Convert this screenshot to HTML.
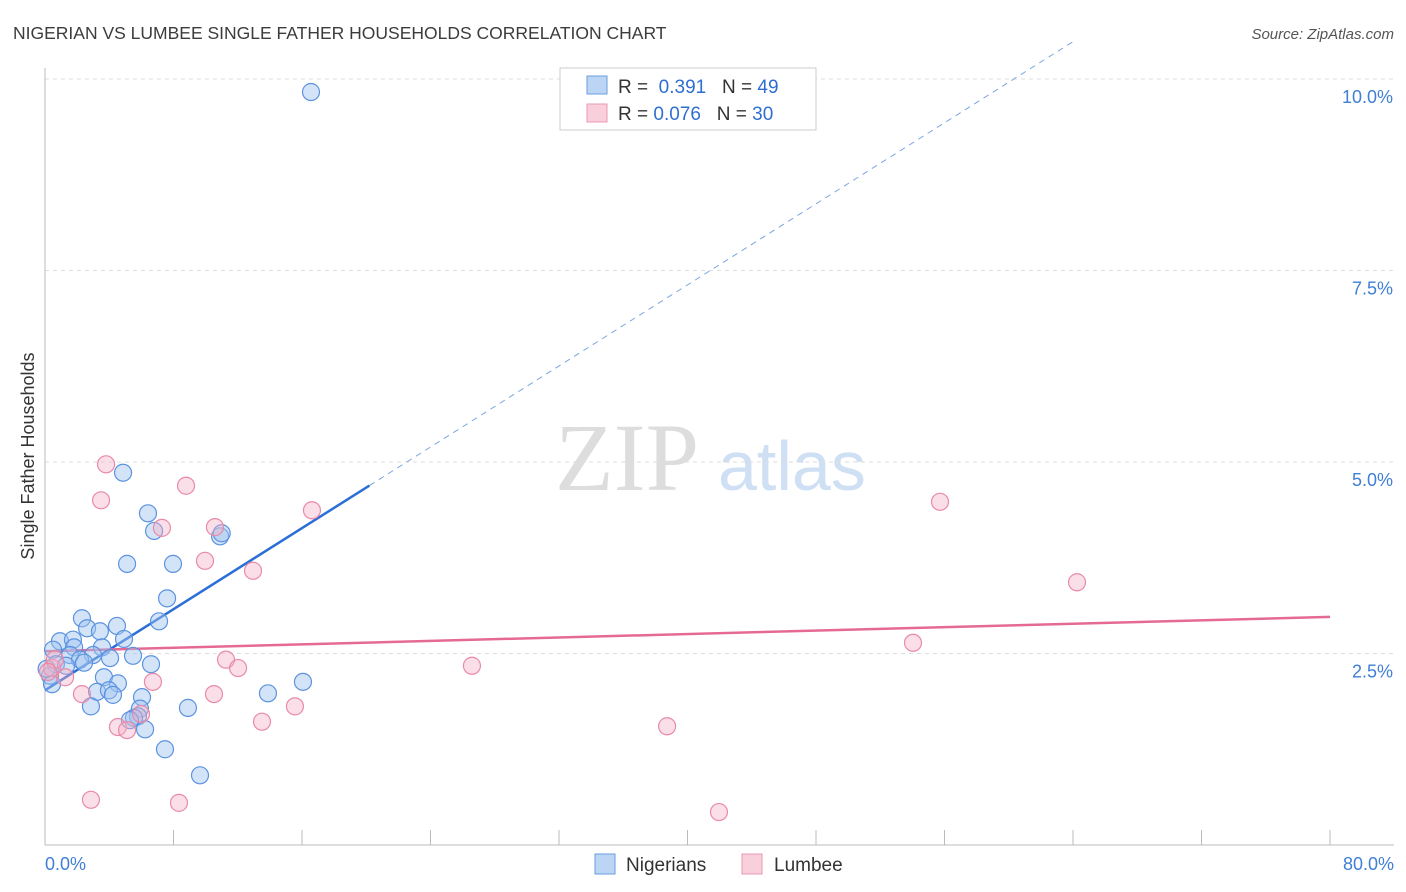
<!DOCTYPE html>
<html><head><meta charset="utf-8"><style>
body{margin:0;background:#fff;font-family:"Liberation Sans",sans-serif}
svg{display:block}
</style></head><body>
<svg id="chart" width="1406" height="892" xmlns="http://www.w3.org/2000/svg">
<text x="13" y="39" font-size="17.5" fill="#3c3c3c">NIGERIAN VS LUMBEE SINGLE FATHER HOUSEHOLDS CORRELATION CHART</text>
<text x="1394" y="39" font-size="15" fill="#555" font-style="italic" text-anchor="end">Source: ZipAtlas.com</text>
<text transform="translate(34,456) rotate(-90)" font-size="18" fill="#333" text-anchor="middle">Single Father Households</text>
<g><text x="555" y="490" font-family="Liberation Serif" font-size="96" fill="#ddd">ZIP</text><text x="718" y="490" font-size="70" fill="#cfe0f4">atlas</text></g>
<g id="grid"></g><g id="axes"></g><g id="lines"></g><g id="pts"></g>
<g>
<rect x="560" y="68" width="256" height="62" fill="#fff" stroke="#ccc"/>
<rect x="587" y="76" width="20" height="18" fill="#bcd5f5" stroke="#6a9ee0"/>
<text x="618" y="93" font-size="19" fill="#333">R = <tspan fill="#2f6fd0">&#160;0.391</tspan>&#160;&#160;&#160;N = <tspan fill="#2f6fd0">49</tspan></text>
<rect x="587" y="104" width="20" height="18" fill="#f9cfdc" stroke="#eb9ab3"/>
<text x="618" y="120" font-size="19" fill="#333">R = <tspan fill="#2f6fd0">0.076</tspan>&#160;&#160;&#160;N = <tspan fill="#2f6fd0">30</tspan></text>
</g>
<g>
<rect x="595" y="854" width="20" height="20" fill="#bcd5f5" stroke="#6a9ee0"/>
<text x="626" y="871" font-size="19" fill="#333">Nigerians</text>
<rect x="742" y="854" width="20" height="20" fill="#f9cfdc" stroke="#eb9ab3"/>
<text x="774" y="871" font-size="19" fill="#333">Lumbee</text>
</g>
</svg>
<script>
const yTicks=[2.5,5.0,7.5,10.0];
const xTickLabels=["0.0%","80.0%"];
const nigX=[16.56,4.86,6.41,6.79,10.9,11.0,5.11,7.97,7.60,7.10,2.30,2.62,4.48,3.42,4.92,0.93,1.74,1.81,3.55,1.56,2.99,4.05,5.48,6.60,0.50,0.68,2.18,1.31,2.43,0.31,0.44,3.67,4.54,3.24,3.98,4.23,6.04,2.86,5.91,5.79,5.54,5.29,6.23,7.47,8.90,13.88,16.06,9.65,0.1];
const nigY=[9.83,4.86,4.33,4.10,4.03,4.07,3.67,3.67,3.22,2.92,2.96,2.83,2.86,2.79,2.69,2.66,2.68,2.58,2.58,2.48,2.48,2.44,2.47,2.36,2.55,2.36,2.42,2.34,2.38,2.21,2.10,2.19,2.11,2.00,2.02,1.96,1.93,1.81,1.78,1.68,1.66,1.63,1.51,1.25,1.79,1.98,2.13,0.91,2.3];
const lumX=[3.80,3.49,8.78,7.28,10.58,16.62,9.96,12.95,55.72,64.25,54.04,26.58,11.27,12.02,6.72,10.52,2.30,1.25,15.56,13.51,4.54,5.11,5.98,38.73,2.86,8.34,41.96,0.44,0.62,0.19];
const lumY=[4.97,4.50,4.69,4.14,4.15,4.37,3.71,3.58,4.48,3.43,2.64,2.34,2.42,2.31,2.13,1.97,1.97,2.19,1.81,1.61,1.54,1.50,1.71,1.55,0.59,0.55,0.43,2.31,2.42,2.26];
const nigLine=[2.02,0.1323]; // intercept, slope
const lumLine=[2.53,0.0056];
const NS="http://www.w3.org/2000/svg";
const X=v=>45+v/80*1285, Y=v=>845-v*76.6;
function mk(tag,attrs,parent){const e=document.createElementNS(NS,tag);for(const k in attrs)e.setAttribute(k,attrs[k]);document.getElementById(parent).appendChild(e);return e;}
yTicks.forEach(t=>{
 const g=mk('line',{x1:45,x2:1394,y1:Y(t),y2:Y(t),stroke:'#ddd','stroke-dasharray':'4,4'},'grid');
 
 
 const l=mk('text',{x:1393,y:Y(t)+24,'font-size':18,fill:'#3f7fd6','text-anchor':'end'},'axes');
 l.textContent=t.toFixed(1)+'%';
 
 
});
const ax=mk('line',{x1:45,x2:1394,y1:845,y2:845,stroke:'#bbb'},'axes');


const ay=mk('line',{x1:45,x2:45,y1:68,y2:845,stroke:'#bbb'},'axes');


for(let i=0;i<=10;i++){const t=mk('line',{x1:X(i*8),x2:X(i*8),y1:830,y2:845,stroke:'#bbb'},'axes');
 
 }
[[0,45,'start'],[80,1394,'end']].forEach((d,i)=>{const t=mk('text',{x:d[1],y:870,'font-size':18,fill:'#3f7fd6','text-anchor':d[2]},'axes');t.textContent=xTickLabels[i];
 
 });
const xEnd=20.2, xDash=(10.5-nigLine[0])/nigLine[1];
const l1=mk('line',{x1:X(0),y1:Y(nigLine[0]),x2:X(xEnd),y2:Y(nigLine[0]+nigLine[1]*xEnd),stroke:'#2a6fd6','stroke-width':2.5},'lines');


const l2=mk('line',{x1:X(xEnd),y1:Y(nigLine[0]+nigLine[1]*xEnd),x2:X(xDash),y2:Y(10.5),stroke:'#7aa6e0','stroke-width':1,'stroke-dasharray':'6,5'},'lines');


const l3=mk('line',{x1:X(0),y1:Y(lumLine[0]),x2:X(80),y2:Y(lumLine[0]+lumLine[1]*80),stroke:'#e56a93','stroke-width':2.5},'lines');


nigX.forEach((v,i)=>{const c=mk('circle',{cx:X(v),cy:Y(nigY[i]),r:8.5,fill:'rgba(160,196,240,0.45)',stroke:'#5b93e0','stroke-width':1.2},'pts');
 
 });
lumX.forEach((v,i)=>{const c=mk('circle',{cx:X(v),cy:Y(lumY[i]),r:8.5,fill:'rgba(245,175,198,0.4)',stroke:'#e88aa8','stroke-width':1.2},'pts');
 
 });
</script>
</body></html>
